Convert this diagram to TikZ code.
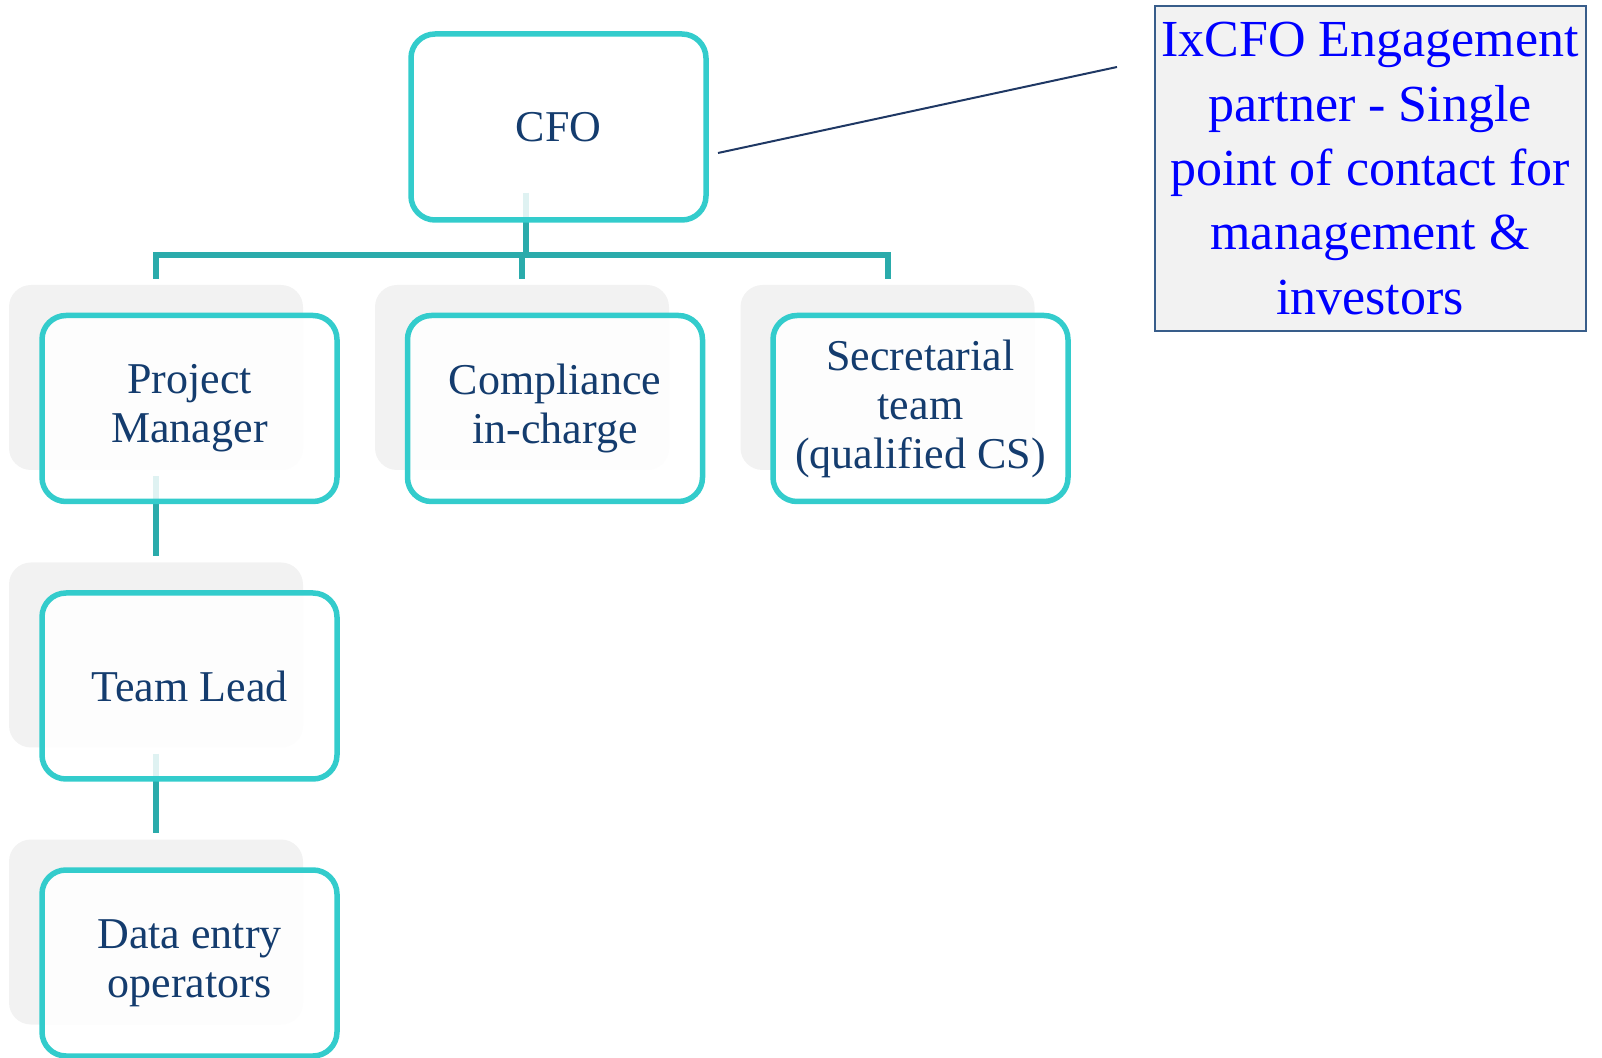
\documentclass[tikz,border=0pt]{standalone}
\usepackage{fontspec}
\setmainfont{Liberation Serif}
\definecolor{boxteal}{HTML}{33CCCC}
\definecolor{linkteal}{HTML}{2AABAB}
\definecolor{cardgray}{HTML}{F2F2F2}
\definecolor{txtnavy}{HTML}{143C6E}
\definecolor{calloutnavy}{HTML}{1F3864}
\definecolor{noteedge}{HTML}{385D8A}
\tikzset{
  backcard/.style={fill=cardgray, rounded corners=11pt, minimum width=147pt, minimum height=92.5pt, inner sep=0pt},
  rolebox/.style={draw=boxteal, line width=2.75pt, rounded corners=12pt, fill=white, fill opacity=0.85, text opacity=1,
    minimum width=147.5pt, minimum height=93pt, inner sep=0pt, align=center, text=txtnavy,
    font=\fontsize{22}{24.5}\selectfont},
  link/.style={draw=linkteal, line width=3pt},
}

\begin{document}
\begin{tikzpicture}[x=0.5pt, y=-0.5pt]
			%%%%% START %%%%%
			\useasboundingbox (0, 0) rectangle (1602, 1058);

			\node[backcard, fill=none] (cfos) at (525.5, 96) {};
			\node[backcard] (pms) at (156, 377.5) {};
			\node[backcard] (cos) at (522, 377.5) {};
			\node[backcard] (scs) at (887.5, 377.5) {};
			\node[backcard] (tls) at (156, 655) {};
			\node[backcard] (des) at (156, 932) {};

			\coordinate (bar) at (0, 255);
			\draw[link] ([yshift=-2pt]cfos.south) -- (cfos.south |- bar);
			\draw[link] ([yshift=3pt]pms.north) -- (pms.north |- bar) -- (scs.north |- bar) -- ([yshift=3pt]scs.north);
			\draw[link] ([yshift=3pt]cos.north) -- (cos.north |- bar);
			\draw[link] ([yshift=-3pt]pms.south) -- ([yshift=3pt]tls.north);
			\draw[link] ([yshift=-3pt]tls.south) -- ([yshift=3pt]des.north);

			\node[rolebox] (cfo) at (558.5, 127) {CFO};
			\node[rolebox] (pm) at (189.5, 408.5) {Project\\Manager};
			\node[rolebox] (co) at (555, 408.5) {Compliance\\in-charge};
			\node[rolebox] (sc) at (920.5, 408.5) {Secretarial\\team\\(qualified CS)};
			\node[rolebox] (tl) at (189.5, 686) {Team Lead};
			\node[rolebox] (de) at (189.5, 963) {Data entry\\operators};

			\node[draw=noteedge, line width=1pt, fill=cardgray, minimum width=215.5pt, minimum height=162.5pt, inner sep=0pt,
			      align=center, text=blue, font=\fontsize{26}{32.2}\selectfont] (partner) at (1370, 168.5)
			      {IxCFO Engagement\\partner - Single\\point of contact for\\management \&\\investors};

			\coordinate (cfoout) at (718, 153);
			\coordinate (partnerin) at (1117, 67);
			\draw[calloutnavy, line width=1pt] (cfoout) -- (partnerin);
			%%%%% END %%%%%
\end{tikzpicture}
\end{document}
